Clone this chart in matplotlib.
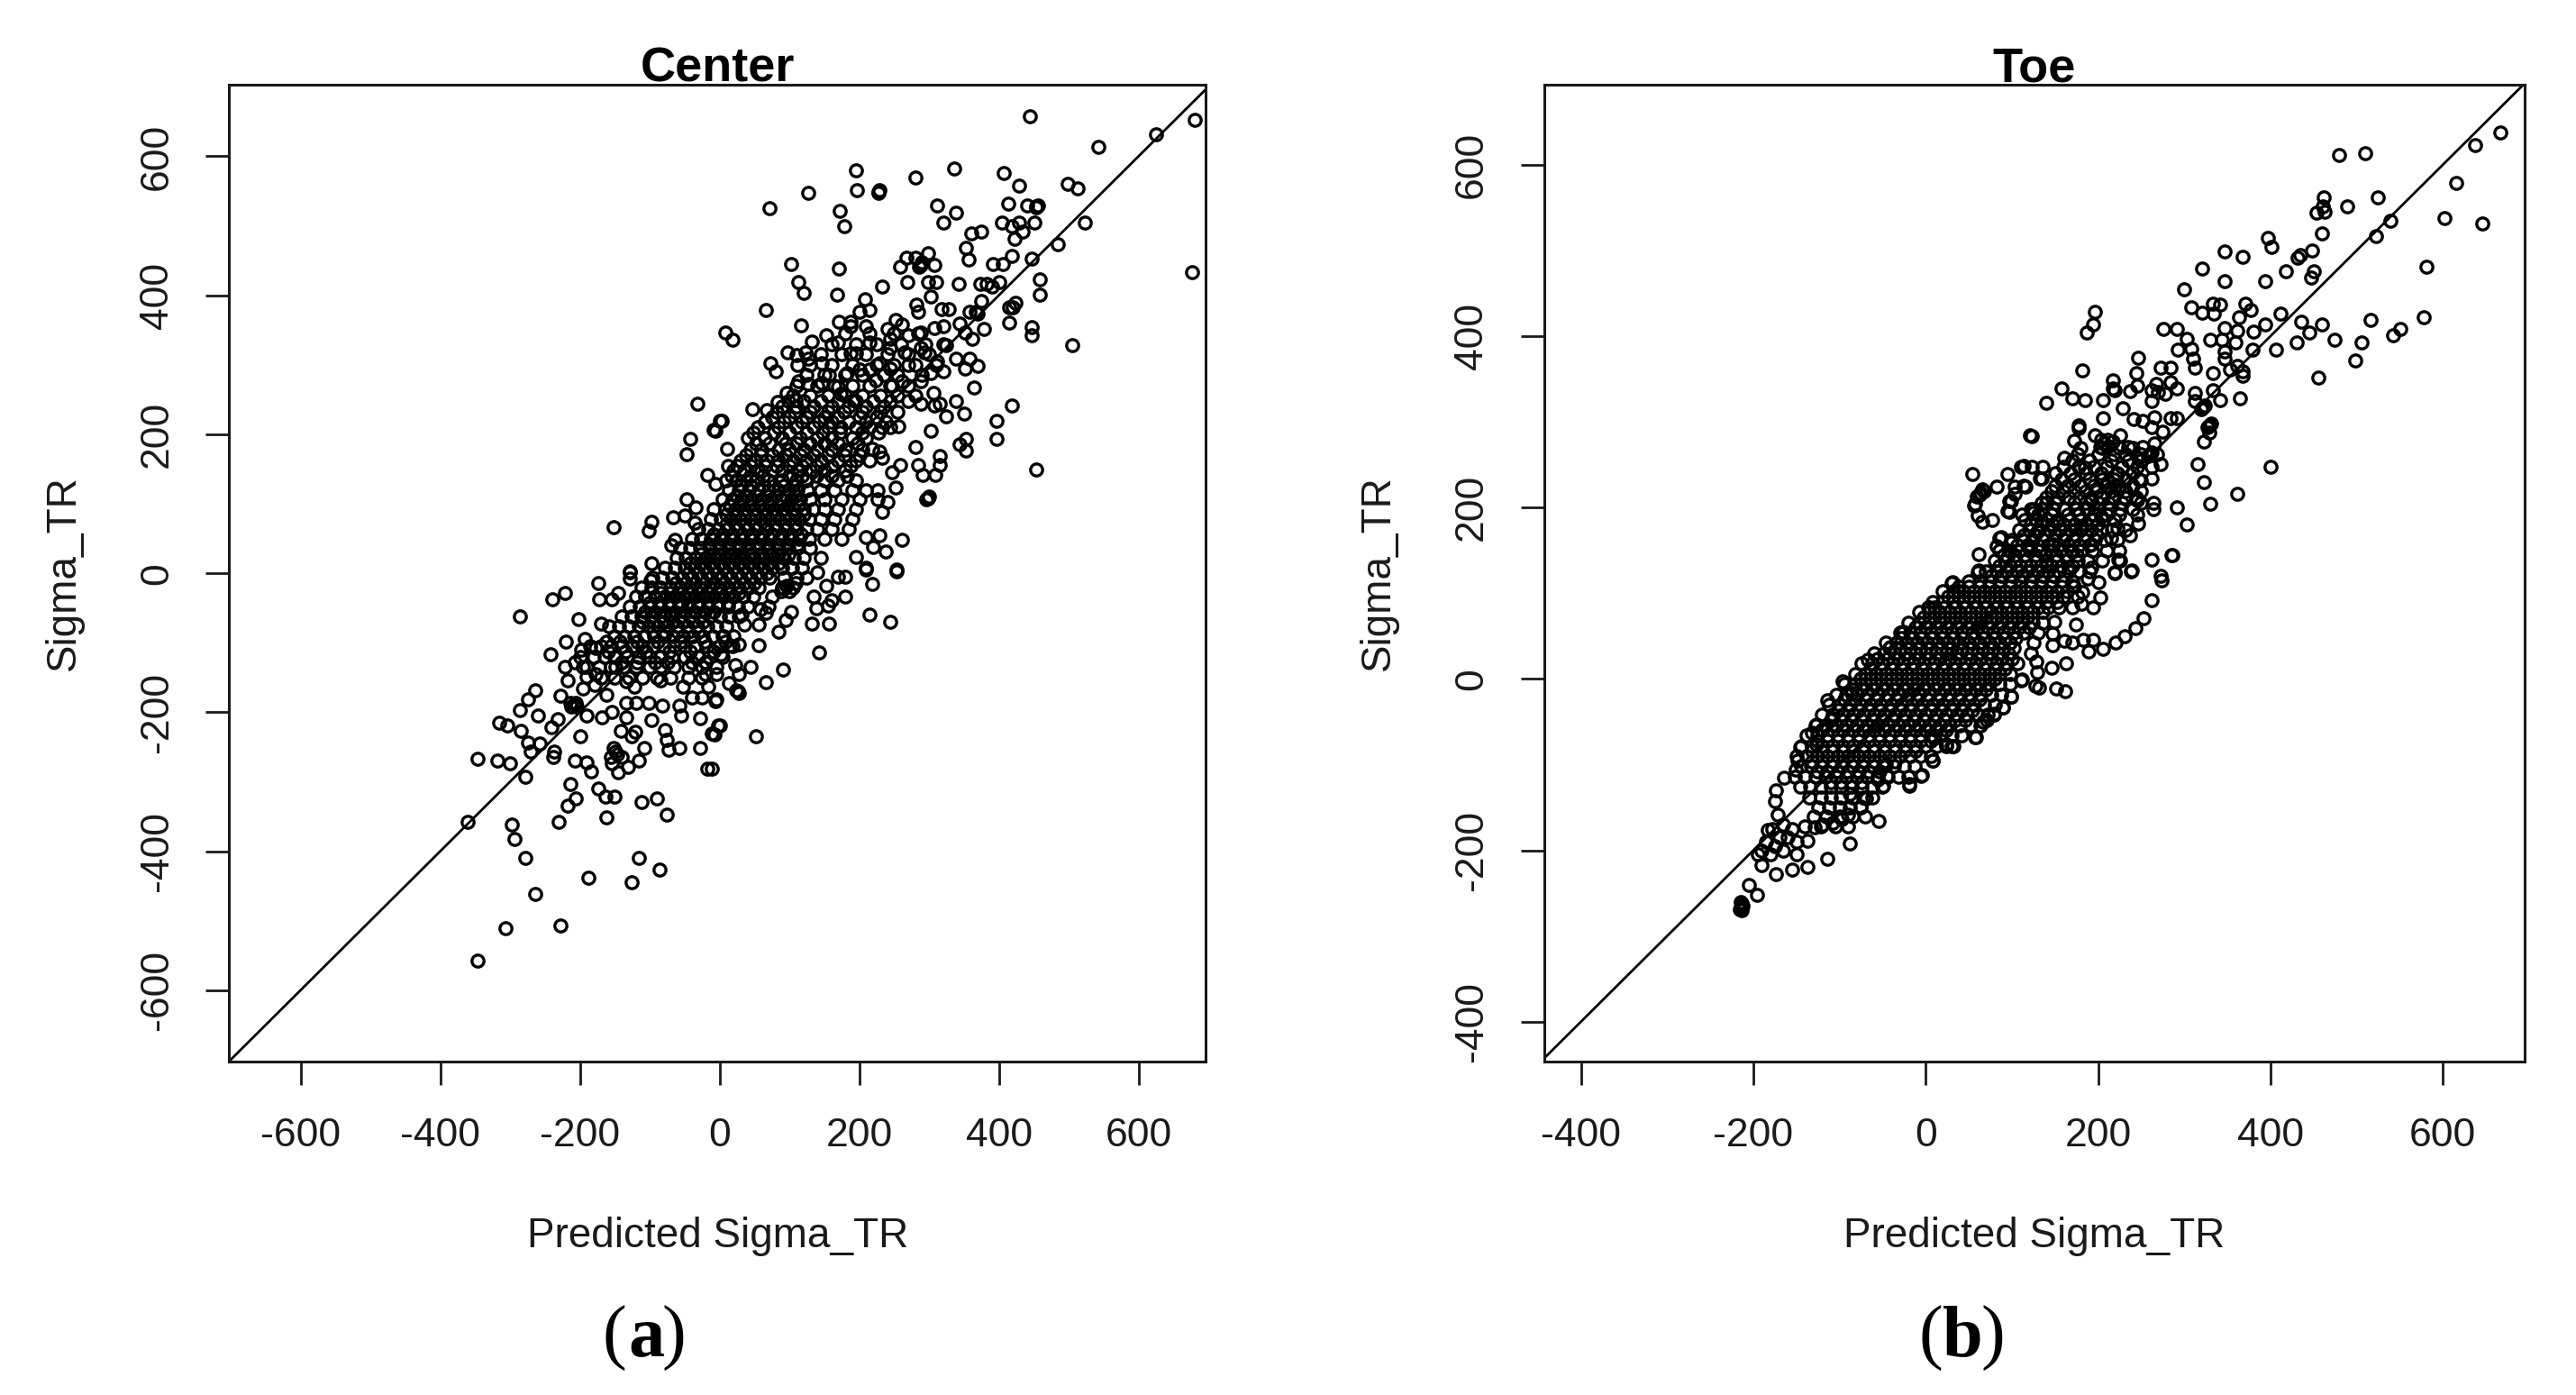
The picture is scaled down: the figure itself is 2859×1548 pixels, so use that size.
import matplotlib
matplotlib.use("Agg")
import matplotlib.pyplot as plt

plt.rcParams['font.family'] = ['Liberation Sans', 'DejaVu Sans']
plt.rcParams['axes.unicode_minus'] = False

W, H = 2859, 1548

# Center panel, points (x, y)
center_upper = [(444,657),(680,653),(625,632),(542,613),(196,580),(336,583),(280,570),(407,576),(429,558),(498,561),
    (513,554),(127,547),(197,551),(227,549),(229,551),(227,547),(71,525),(172,522),(179,499),(312,529),(338,519),(320,504),
    (414,532),(440,529),(454,528),(456,529),(453,526),(451,504),(523,504),(404,504),(418,499),(429,504),(434,491),(422,481),
    (360,489),(375,492),(353,468),(357,452),(484,474),(418,457),(406,445),(392,445),(447,453),(102,445),(171,438),(113,419),
    (120,404),(168,401),(233,412),(268,454),(280,454),(259,441),(288,444),(290,447),(286,441),(299,460),(307,444),(269,419),
    (298,419),(310,419),(342,416),(374,416),(383,416),(390,412),(400,419),(458,423),(458,401),(677,433),(302,398),(208,394),
    (282,386),(284,376),(318,380),(328,380),(375,392),(367,376),(370,374),(358,376),(415,383),(424,389),(420,383),(415,361),
    (447,354),(447,342),(505,328),(66,379),(117,357),(8,346),(19,336),(171,362),(201,376),(215,379),(187,362),(187,355),
    (210,356),(215,332),(153,343),(132,333),(169,332),(252,365),(261,358),(240,351),(245,337),(245,325),(270,342),(288,346),
    (288,325),(307,353),(321,356),(325,328),(344,360),(351,346),(378,351),(362,337),(97,318),(110,314),(123,318),(187,316),
    (196,316),(73,302),(81,291),(111,300),(127,309),(146,302),(229,302),(265,318),(245,295),(270,300),(293,318),(312,305),
    (339,309),(358,309),(351,295),(369,299),(321,291),(201,293),(215,293),(183,288),(113,277),(127,272),(146,274),(157,286),
    (169,268),(224,278),(247,270),(261,277),(288,277),(302,288),(96,259),(83,247),(47,236),(67,235),(306,259),(365,267),
    (109,249),(173,258),(192,249),(288,244),(307,242),(316,244),(339,248),(419,241),(324,226),(350,230),(397,219),(302,205),
    (397,193),(353,193),(344,186),(353,177),(280,182),(256,212),(233,210),(173,210),(316,169),(316,156),(284,156),(291,142),
    (309,142),(259,156),(247,145),(229,175),(219,179),(233,166),(454,149),(298,108),(300,110),(296,106),(252,124),(210,120),
    (226,120),(226,106),(233,89),(240,103),(261,48),(229,54),(210,52),(238,31),(220,38),(254,5),(210,8),(196,24),(0,219),(-6,205),
    (11,179)]
center_left = [(-347,-558),(-307,-511),(-228,-507),(-264,-461),(-188,-438),(-126,-445),(-86,-427),(-116,-409),(-278,-409),
    (-293,-383),(-297,-361),(-361,-358),(-231,-358),(-162,-351),(-75,-347),(-112,-329),(-90,-324),(-218,-334),(-206,-324),
    (-174,-310),(-163,-322),(-150,-322),(-214,-303),(-278,-293),(-347,-267),(-318,-270),(-300,-273),(-207,-270),(-191,-272),
    (-184,-285),(-237,-256),(-238,-265),(-258,-245),(-274,-244),(-271,-256),(-199,-234),(-145,-286),(-131,-279),(-115,-270),
    (-149,-256),(-156,-265),(-140,-265),(-154,-274),(-146,-260),(-152,-252),(-108,-251),(-126,-235),(-121,-228),(-142,-227),
    (-57,-252),(-73,-254),(-75,-240),(-78,-226),(-28,-252),(-17,-281),(-11,-230),(-2,-219),(-28,-209),(-55,-205),(-98,-211),
    (-133,-207),(-154,-200),(-168,-207),(-191,-205),(-315,-215),(-304,-219),(-285,-227),(-286,-197),(-274,-181),(-264,-168),
    (-260,-205),(-241,-221),(-232,-210),(-228,-176),(-209,-189),(-212,-192),(-206,-186),(-205,-192),(-213,-186),(-195,-166),
    (-179,-161),(-191,-149),(-195,-135),(-221,-135),(-218,-154),(-242,-117),(-220,-98),(-207,-128),(-193,-94),(-198,-110),
    (-177,-108),(-202,-66),(-286,-62),(-239,-37),(-221,-29),(-173,-14),(-172,-38),(-145,-28),(-154,-38),(-170,-73),(-129,1),
    (-129,-8),(-99,-10),(-162,-175),(-133,-156),(-133,-186),(-119,-186),(-101,-186),(-82,-191),(-57,-191),(-39,-179),(-25,-179),
    (-6,-184),(-149,-135),(-177,-145),(-20,-128),(-4,-145),(-20,-145),(-16,-163),(-52,-163),(-85,-154),(-122,-163)]
center_top_left = [(-32,244),(3,219),(-9,207),(-42,193),(-47,171),(-18,142),(-6,129),(-47,106),(-34,95),(-66,80),(-50,83),
    (-35,73),(-97,74),(-101,61),(-152,66),(-64,48),(-69,41),(-97,15),(-129,3)]
center_right = [(210,6),(254,3),(218,-15),(153,-18),(180,-34),(135,-33),(161,-39),(155,-46),(139,-51),(215,-59),(244,-70),
    (132,-73),(157,-73),(102,-55),(95,-67),(84,-84),(56,-103),(142,-114),(45,-135),(91,-139),(66,-157),(23,-132),(28,-145),
    (13,-158),(26,-170),(28,-172),(24,-168),(-5,-182),(1,-219),(52,-234),(-11,-281),(-7,-232),(58,-52),(36,-74),(56,-74),
    (32,-59),(66,-57),(92,-22),(96,-18),(88,-26),(100,-26),(109,-14),(180,-5),(170,-5),(140,2),(15,-104),(28,-102),(2,-117),(6,-91)]

# Dense middle of the Center cloud, read as rows: (y, x values along that row)
center_rows = [(-150,[-170,-150,-130,-110,-90,-70,-45,-25]),
    (-135,[-190,-172,-155,-138,-120,-100,-85,-65,-45,-25,-5]),
    (-120,[-200,-180,-165,-150,-132,-115,-100,-85,-68,-50,-30,-15,5]),
    (-105,[-185,-170,-155,-140,-125,-110,-95,-80,-65,-50,-35,-18,0,18]),
    (-90,[-150,-136,-122,-108,-94,-80,-66,-52,-38,-24,-10,4,20]),
    (-76,[-158,-144,-130,-116,-102,-88,-74,-60,-46,-32,-18,-4,10]),
    (-62,[-140,-126,-112,-98,-84,-70,-56,-42,-28,-14,0,14,28]),
    (-48,[-128,-114,-100,-86,-72,-58,-44,-30,-16,-2,12,26,40,70]),
    (-34,[-120,-106,-92,-78,-64,-50,-36,-22,-8,6,20,34,48,75]),
    (-20,[-112,-98,-84,-70,-56,-42,-28,-14,0,14,28,42,56,90,105]),
    (-6,[-96,-82,-68,-54,-40,-26,-12,2,16,30,44,58,72,92,110,125]),
    (8,[-78,-64,-50,-36,-22,-8,6,20,34,48,62,76,90,104,118]),
    (22,[-62,-48,-34,-20,-6,8,22,36,50,64,78,92,106,120,145]),
    (36,[-56,-42,-28,-14,0,14,28,42,56,70,84,98,112,130]),
    (50,[-40,-26,-12,2,16,30,44,58,72,86,100,114,128,150,175]),
    (64,[-30,-16,-2,12,26,40,54,68,82,96,110,124,140,160,185]),
    (78,[-12,2,16,30,44,58,72,86,100,114,128,145,165,190]),
    (92,[-8,8,22,36,50,64,78,92,106,120,134,150,170,195]),
    (106,[4,18,32,46,60,74,88,102,116,130,150,175,200]),
    (120,[14,28,42,56,70,84,98,112,126,145,165,190]),
    (134,[10,24,38,52,70,90,110,125,150,170,195]),
    (148,[20,35,55,75,90,112,130,150,180]),
    (162,[30,50,68,85,105,125,145,170,195,215]),
    (178,[45,60,85,100,120,140,160,180,205]),
    (195,[40,65,90,115,140,160,190,210]),
    (210,[55,85,110,135,155,195,215,245]),
    (225,[75,100,125,150,170,200,225]),
    (240,[90,110,135,160,185,210,235]),
    (255,[105,130,155,180,205,230,255,280]),
    (270,[110,140,165,190,215,245,270]),
    (285,[125,150,180,205,235,255,290]),
    (300,[130,160,190,225,250,280,310]),
    (315,[145,175,210,240,270,300]),
    (330,[160,195,225,260,295,320]),
    (345,[180,215,250,285])]

# Second pass over the black core of the Center cloud
center_rows_core = [(-84,[-95,-80,-60,-45,-30]),
    (-70,[-110,-95,-80,-66,-52,-38,-24]),
    (-56,[-106,-92,-78,-64,-50,-36,-22,-8]),
    (-42,[-100,-86,-72,-58,-44,-30,-16,-2,12]),
    (-28,[-85,-71,-57,-43,-29,-15,-1,13,27]),
    (-14,[-63,-49,-35,-21,-7,7,21,35,49]),
    (0,[-45,-31,-17,-3,11,25,39,53,67]),
    (14,[-42,-28,-14,0,14,28,42,56,70,84]),
    (28,[-27,-13,1,15,29,43,57,71,85,99]),
    (42,[-15,-1,13,27,41,55,69,83,97,111]),
    (56,[-9,5,19,33,47,61,75,89,103,117]),
    (70,[9,23,37,51,65,79,93,107]),
    (84,[9,23,37,51,65,79,93,107,121]),
    (98,[15,29,43,57,71,85,99,113]),
    (112,[25,39,53,67,81,95,109]),
    (126,[30,45,62,78,92,105])]

# Third pass, the busy shoulders either side of the core
center_rows_extra = [(-128,[-140,-118,-92,-74,-40,-20]),
    (-112,[-160,-135,-105,-72,-42,-8]),
    (-98,[-162,-143,-118,-88,-56,-22,8]),
    (140,[17,44,62,100,118,138,160,182]),
    (155,[12,25,45,65,82,100,118,138,160,188]),
    (170,[38,58,76,95,115,135,155,178,200]),
    (187,[52,72,95,110,130,150,170,198]),
    (202,[48,78,100,125,148,172,205,228]),
    (218,[65,92,118,142,160,185,210,238]),
    (232,[82,108,130,155,178,205,230,255]),
    (248,[98,120,145,170,195,220,245,270])]

# Toe panel, points (x, y)
toe_upper = [(667,638),(638,623),(510,614),(480,611),(616,579),(525,562),(489,552),(462,562),(461,552),(463,545),(453,544),
    (539,535),(522,517),(602,538),(646,532),(460,520),(397,515),(401,504),(448,500),(435,495),(432,492),(347,499),(368,493),
    (321,479),(418,476),(450,476),(447,468),(394,464),(347,464),(581,481),(300,455),(333,438),(342,437),(308,434),(321,427),
    (334,426),(371,438),(377,431),(196,429),(194,414),(187,404),(364,422),(412,426),(394,414),(436,417),(460,414),(445,404),
    (516,419),(578,422),(551,408),(542,401),(506,393),(474,396),(430,393),(498,372),(456,352),(406,384),(380,405),(379,384),
    (361,406),(347,410),(276,408),(291,408),(303,397),(308,385),(310,374),(312,363),(293,384),(330,396),(344,396),(359,393),
    (347,382),(347,374),(247,375),(182,360),(244,357),(273,363),(284,363),(333,357),(361,365),(368,359),(353,361),(368,354),
    (217,349),(217,339),(219,337),(245,342),(237,336),(158,339),(170,327),(185,325),(140,322),(206,325),(262,337),(267,344),
    (269,335),(278,333),(291,339),(284,346),(262,324),(312,334),(312,324),(333,337),(342,325),(365,327),(322,317),(324,319),
    (320,315),(229,316),(206,304),(241,303),(252,301),(265,305),(262,294),(275,289),(284,304),(291,304),(178,296),(178,293),
    (329,296),(331,298),(327,294),(329,288),(323,277),(123,283),(172,278),(196,284),(207,275),(211,279),(203,271),(212,272),
    (204,279),(217,277),(226,284),(235,271),(265,275),(252,271),(260,262),(262,264),(258,260),(247,258),(273,251),(315,251),
    (400,248),(323,230),(262,234),(250,232),(362,216),(330,204),(291,200),(303,180),(264,206),(264,198),(247,181),(285,144),
    (262,139),(226,138),(239,127),(273,120),(136,248),(161,258),(185,247),(135,234),(211,230),(222,239),(224,221),(245,209),
    (192,209),(140,205),(151,183),(181,176),(204,190),(222,176),(237,168),(125,194),(129,172),(121,153),(148,157),(170,149),
    (192,157),(215,164),(140,134),(166,130),(192,130),(219,125)]
toe_left_arm = [(121,284),(54,239),(82,224),(95,239),(114,249),(123,248),(66,221),(68,219),(64,217),(62,215),(56,202),(60,191),
    (66,183),(77,186),(103,224),(116,224),(103,216),(99,208),(95,196),(125,198),(88,166),(82,155),(99,159),(95,142),(61,146),
    (61,127),(59,213),(57,204),(111,248),(133,234),(114,225),(97,208),(97,195),(86,165),(31,113),(37,102),(4,83),(-26,55)]
toe_lower_arc = [(286,144),(274,115),(262,92),(253,71),(243,59),(231,50),(220,42),(206,35),(189,32),(194,46),(183,46),(174,64),
    (162,-14),(151,-11),(132,-10),(57,-68),(8,-95),(-4,-112),(-19,-123),(238,126),(224,139),(219,124),(203,95),(194,84),
    (181,88),(182,101),(188,117),(170,109),(200,113),(149,67),(147,53),(147,39),(161,45),(128,20),(129,8),(146,13),(163,18),
    (170,43),(99,-21),(90,-33),(79,-41),(71,-48),(111,-2),(32,-78),(24,-76),(10,-69)]
toe_low_end = [(-214,-267),(-216,-269),(-212,-265),(-214,-263),(-213,-270),(-215,-260),(-196,-252),(-205,-240),(-191,-217),
    (-174,-228),(-155,-222),(-137,-219),(-114,-210),(-88,-192),(-55,-166),(-137,-189),(-183,-176),(-164,-115),(-174,-130),
    (-175,-143),(-172,-158),(-146,-80),(-149,-95),(-151,-106),(-127,-53),(-132,-63),(-127,-76),(-114,-25),(-108,-46),(-96,-3),
    (-86,-16),(-67,22),(-41,37),(-26,54),(3,83),(30,112),(37,102),(60,125),(8,-95),(-5,-113),(-19,-125),(58,-68),(30,-78),
    (9,-68),(-49,-125),(-56,-117),(-45,-113),(-46,-101),(-69,-139),(-76,-149),(-88,-134),(-90,-158),(-97,-164),(-108,-168),
    (-119,-170),(-129,-173),(90,-33),(99,-21),(79,-42),(67,-50),(112,-1),(127,-8),(-190,-200),(-185,-190),(-180,-205),(-175,-195),
    (-170,-185),(-178,-175),(-165,-200),(-160,-185),(-155,-175),(-165,-170),(-150,-190),(-150,-205),(-195,-205)]

# Dense band of the Toe cloud, read as rows: (y, x values along that row)
toe_rows = [(-150,[-125,-112,-100,-88,-76]),
    (-138,[-135,-122,-110,-98,-85,-72,-62]),
    (-126,[-146,-134,-122,-110,-98,-86,-74,-62,-50]),
    (-114,[-152,-140,-128,-116,-104,-92,-80,-68,-56,-44,-32,-20]),
    (-102,[-145,-133,-121,-109,-97,-85,-73,-61,-49,-37,-25,-13]),
    (-90,[-150,-138,-126,-114,-102,-90,-78,-66,-54,-42,-30,-18,-6,6]),
    (-78,[-144,-132,-120,-108,-96,-84,-72,-60,-48,-36,-24,-12,0,12,24]),
    (-66,[-138,-126,-114,-102,-90,-78,-66,-54,-42,-30,-18,-6,6,18,30,42]),
    (-54,[-128,-116,-104,-92,-80,-68,-56,-44,-32,-20,-8,4,16,28,40,52,64]),
    (-42,[-120,-108,-96,-84,-72,-60,-48,-36,-24,-12,0,12,24,36,48,60,72]),
    (-30,[-112,-100,-88,-76,-64,-52,-40,-28,-16,-4,8,20,32,44,56,68,80]),
    (-18,[-104,-92,-80,-68,-56,-44,-32,-20,-8,4,16,28,40,52,64,76,88]),
    (-6,[-94,-82,-70,-58,-46,-34,-22,-10,2,14,26,38,50,62,74,86,98]),
    (6,[-82,-70,-58,-46,-34,-22,-10,2,14,26,38,50,62,74,86,98]),
    (18,[-74,-62,-50,-38,-26,-14,-2,10,22,34,46,58,70,82,94,106]),
    (30,[-60,-48,-36,-24,-12,0,12,24,36,48,60,72,84,96,122]),
    (42,[-46,-34,-22,-10,2,14,26,38,50,62,74,86,98,125]),
    (54,[-30,-18,-6,6,18,30,42,54,66,78,90,102,114,130]),
    (66,[-20,-8,4,16,28,40,52,64,76,88,100,112,124,136]),
    (78,[-8,4,16,28,40,52,64,76,88,100,112,124,136]),
    (90,[8,20,32,44,56,68,80,92,104,116,128,140,152]),
    (102,[20,32,44,56,68,80,92,104,116,128,140,152,164]),
    (114,[50,62,74,86,98,110,122,134,146,158,170]),
    (126,[70,82,94,106,118,130,142,154,166,178,190]),
    (138,[80,92,104,116,128,140,152,164,176,188,205]),
    (150,[85,97,109,121,133,145,157,169,181,193,210,225]),
    (162,[100,112,124,136,148,160,172,184,196,208,222]),
    (174,[108,120,132,144,156,168,180,192,204,216,232]),
    (186,[115,128,141,154,167,180,193,206,219]),
    (198,[122,135,148,161,174,187,200,213,226,240]),
    (212,[140,153,166,179,192,205,218,231,244]),
    (226,[150,165,180,195,210,225,240]),
    (240,[150,168,186,204,222,240]),
    (255,[170,190,215,235,250]),
    (270,[180,205,225,240])]

# Second pass over the black part of the Toe band
toe_rows_core = [(-120,[-110,-98,-86,-74]),
    (-108,[-126,-114,-102,-90,-78,-66,-54]),
    (-96,[-132,-120,-108,-96,-84,-72,-60,-48,-36]),
    (-84,[-132,-120,-108,-96,-84,-72,-60,-48,-36,-24,-12]),
    (-72,[-126,-114,-102,-90,-78,-66,-54,-42,-30,-18,-6,6]),
    (-60,[-120,-108,-96,-84,-72,-60,-48,-36,-24,-12,0,12,24]),
    (-48,[-110,-98,-86,-74,-62,-50,-38,-26,-14,-2,10,22,34,46]),
    (-36,[-102,-90,-78,-66,-54,-42,-30,-18,-6,6,18,30,42,54]),
    (-24,[-94,-82,-70,-58,-46,-34,-22,-10,2,14,26,38,50,62]),
    (-12,[-86,-74,-62,-50,-38,-26,-14,-2,10,22,34,46,58,70]),
    (0,[-76,-64,-52,-40,-28,-16,-4,8,20,32,44,56,68,80]),
    (12,[-64,-52,-40,-28,-16,-4,8,20,32,44,56,68,80,92]),
    (24,[-56,-44,-32,-20,-8,4,16,28,40,52,64,76,88,100]),
    (36,[-42,-30,-18,-6,6,18,30,42,54,66,78,90,102]),
    (48,[-28,-16,-4,8,20,32,44,56,68,80,92,104]),
    (60,[-12,0,12,24,36,48,60,72,84,96,108,120]),
    (72,[-2,10,22,34,46,58,70,82,94,106,118]),
    (84,[10,22,34,46,58,70,82,94,106,118,130]),
    (96,[26,38,50,62,74,86,98,110,122,134]),
    (108,[38,50,62,74,86,98,110,122,134]),
    (120,[76,88,100,112,124,136,148]),
    (132,[86,98,110,122,134,146,158,170]),
    (144,[91,103,115,127,139,151,163,175]),
    (156,[106,118,130,142,154,166,178,190]),
    (168,[114,126,138,150,162,174,186,198]),
    (180,[122,134,147,160,173,186,199])]

# Third pass, the busier upper end and low tail of the band
toe_rows_extra = [(-160,[-130,-115,-100,-85,-70]),
    (-172,[-140,-122,-105,-90]),
    (84,[142,155,170]),
    (96,[146,160,176]),
    (108,[145,158,172]),
    (192,[112,130,146,165,178,195,210,225,245]),
    (205,[135,150,172,186,200,212,228,250]),
    (219,[146,160,172,186,198,215,232,250]),
    (233,[158,172,190,205,218,232,248]),
    (248,[160,178,195,210,228,245,262]),
    (262,[176,200,218,232,250,268])]

center_ticks_x = [-600, -400, -200, 0, 200, 400, 600]
center_ticks_y = [-600, -400, -200, 0, 200, 400, 600]
toe_ticks_x = [-400, -200, 0, 200, 400, 600]
toe_ticks_y = [-400, -200, 0, 200, 400, 600]


def collect(point_lists, rows):
    xs = []
    ys = []
    for pts in point_lists:
        for p in pts:
            xs.append(p[0])
            ys.append(p[1])
    for y, row in rows:
        for x in row:
            xs.append(x)
            ys.append(y)
    return xs, ys


def draw_panel(box, xs, ys, xlim, ylim, ticks_x, ticks_y, title):
    # box is left, top, right, bottom in pixels of the full image
    left, top, right, bottom = box
    ax = fig.add_axes([left / W, 1 - bottom / H, (right - left) / W, (bottom - top) / H])
    ax.plot(xs, ys, linestyle='none', marker='o', markersize=9.6, markerfacecolor='none',
            markeredgecolor='black', markeredgewidth=2.4)
    ax.plot([-800, 800], [-800, 800], color='black', linewidth=2.0)
    ax.set_xlim(xlim)
    ax.set_ylim(ylim)
    ax.set_xticks(ticks_x)
    ax.set_yticks(ticks_y)
    ax.tick_params(axis='x', length=19, width=2, pad=26, labelsize=32, colors='#1a1a1a')
    ax.tick_params(axis='y', length=19, width=2, pad=24, labelsize=32, colors='#1a1a1a')
    for lab in ax.get_yticklabels():
        lab.set_rotation(90)
        lab.set_va('center')
    for s in ax.spines.values():
        s.set_linewidth(2.2)
        s.set_color('#1a1a1a')
    # y given so matplotlib does not push the title up by itself
    ax.set_title(title, fontsize=39, fontweight='bold', y=1.0, pad=2.4)
    ax.set_xlabel('Predicted Sigma_TR', fontsize=33, labelpad=50, color='#1a1a1a')
    ax.set_ylabel('Sigma_TR', fontsize=33, labelpad=44, color='#1a1a1a')
    return ax


fig = plt.figure(figsize=(W / 100, H / 100), dpi=100, facecolor='white')

cx, cy = collect([center_upper, center_left, center_top_left, center_right],
                 center_rows + center_rows_core + center_rows_extra)
tx, ty = collect([toe_upper, toe_left_arm, toe_lower_arc, toe_low_end],
                 toe_rows + toe_rows_core + toe_rows_extra)

draw_panel((254.5, 94, 1338, 1177.5), cx, cy, (-702, 696), (-702, 703), center_ticks_x, center_ticks_y, 'Center')
draw_panel((1713.5, 94, 2802, 1177.5), tx, ty, (-443, 695), (-446, 693.5), toe_ticks_x, toe_ticks_y, 'Toe')

# Panel captions, brackets regular and letter bold
for px, txt, wt in [(682, '(', 'normal'), (717, 'a', 'bold'), (748, ')', 'normal'),
                    (2143, '(', 'normal'), (2178, 'b', 'bold'), (2212, ')', 'normal')]:
    fig.text(px / W, 1 - 1505 / H, txt, ha='center', va='baseline', fontsize=58, fontweight=wt,
             family=['Liberation Serif', 'DejaVu Serif'])

fig.savefig('out.png', dpi=100)
